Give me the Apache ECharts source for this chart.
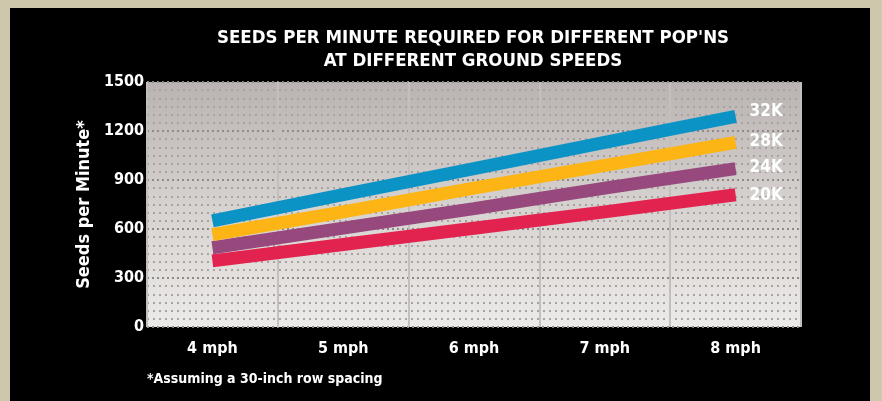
<!DOCTYPE html>
<html>
<head>
<meta charset="utf-8">
<script src="https://cdn.jsdelivr.net/npm/echarts@6/dist/echarts.min.js"></script>
<style>
  html, body { margin: 0; padding: 0; background: #cfc7ab; }
  #chart { width: 882px; height: 401px; }
</style>
</head>
<body>
<div id="chart"></div>
<script>
// Ground speeds along the x axis
const speeds = ['4 mph', '5 mph', '6 mph', '7 mph', '8 mph'];
// Seeds per minute for each planting population
const pop32k = [650, 810, 970, 1130, 1290];
const pop28k = [565, 705, 850, 990, 1130];
const pop24k = [485, 605, 725, 850, 970];
const pop20k = [405, 505, 605, 705, 810];
const popNames = ['32K', '28K', '24K', '20K'];
const yTicks = [0, 300, 600, 900, 1200, 1500];

const FONT = '"Liberation Sans Narrow", "DejaVu Sans Condensed", "Roboto Condensed", sans-serif';

const chart = echarts.init(document.getElementById('chart'), null, { renderer: 'canvas' });

const colors = ['#0b93c6', '#fdb515', '#97497e', '#e3234f'];
const labelOffsets = [[14, -5], [14, -1], [14, -1], [14, 1]];

function band(name, data, i) {
  return {
    name: name,
    type: 'line',
    data: data,
    symbol: 'none',
    z: 10 - i,
    lineStyle: { width: 13, color: colors[i], cap: 'butt' },
    endLabel: {
      show: true,
      formatter: name,
      color: '#ffffff',
      fontFamily: FONT,
      fontWeight: 'bold',
      fontSize: 17,
      distance: 0,
      offset: labelOffsets[i]
    },
    emphasis: { disabled: true },
    animation: false
  };
}

const option = {
  backgroundColor: '#cfc7ab',
  animation: false,
  graphic: [
    {
      type: 'rect',
      z: -10,
      shape: { x: 10, y: 8, width: 860, height: 400 },
      style: { fill: '#000000' },
      silent: true
    },
    {
      type: 'text',
      x: 473,
      y: 27,
      style: {
        text: "SEEDS PER MINUTE REQUIRED FOR DIFFERENT POP'NS\nAT DIFFERENT GROUND SPEEDS",
        fill: '#ffffff',
        font: 'bold 18.5px ' + FONT,
        align: 'center',
        lineHeight: 23
      }
    },
    {
      type: 'text',
      left: 147,
      top: 372,
      style: {
        text: '*Assuming a 30-inch row spacing',
        fill: '#ffffff',
        font: 'bold 14px ' + FONT
      }
    }
  ],
  grid: {
    left: 147, right: 81, top: 82, bottom: 74,
    show: true,
    borderWidth: 0,
    backgroundColor: new echarts.graphic.LinearGradient(0, 0, 0, 1, [
      { offset: 0, color: '#b9b3b1' },
      { offset: 0.5, color: '#d6d2d0' },
      { offset: 1, color: '#eceae8' }
    ])
  },
  xAxis: {
    type: 'category',
    data: speeds,
    boundaryGap: true,
    axisLine: { show: false },
    axisTick: { show: false },
    axisLabel: {
      color: '#ffffff',
      fontFamily: FONT,
      fontWeight: 'bold',
      fontSize: 16,
      margin: 14
    },
    splitLine: {
      show: true,
      interval: 0,
      lineStyle: { color: '#c3bfbd', width: 2 }
    }
  },
  yAxis: {
    type: 'value',
    min: yTicks[0],
    max: yTicks[yTicks.length - 1],
    interval: 300,
    name: 'Seeds per Minute*',
    nameLocation: 'middle',
    nameGap: 48,
    nameRotate: 90,
    nameTextStyle: {
      color: '#ffffff',
      fontFamily: FONT,
      fontWeight: 'bold',
      fontSize: 18
    },
    axisLine: { show: false },
    axisTick: { show: false },
    axisLabel: {
      color: '#ffffff',
      fontFamily: FONT,
      fontWeight: 'bold',
      fontSize: 16,
      margin: 3,
      formatter: function (v) { return String(v); }
    },
    splitLine: {
      show: true,
      lineStyle: { color: '#8f8a88', type: [2, 3], width: 2 }
    },
    minorTick: { show: false, splitNumber: 6 },
    minorSplitLine: {
      show: true,
      lineStyle: { color: '#a8a3a1', type: [2, 4], width: 2 }
    }
  },
  series: [
    band(popNames[0], pop32k, 0),
    band(popNames[1], pop28k, 1),
    band(popNames[2], pop24k, 2),
    band(popNames[3], pop20k, 3)
  ]
};

chart.setOption(option);
</script>
</body>
</html>
